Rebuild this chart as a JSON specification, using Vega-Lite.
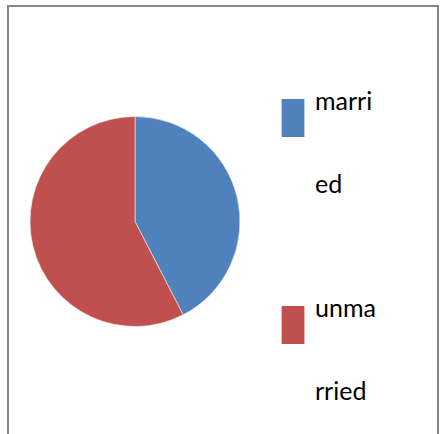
{
  "$schema": "https://vega.github.io/schema/vega-lite/v6.json",
  "autosize": "none",
  "padding": {"left": 8, "top": 6, "right": 7, "bottom": 0},
  "width": 430,
  "height": 440,
  "background": "white",
  "view": {"stroke": "#868686", "strokeWidth": 2},
  "config": {
    "font": "Lato",
    "style": {"guide-label": {"lineHeight": 83, "dy": -8}}
  },
  "data": {
    "values": [
      {"status": "married", "count": 14},
      {"status": "unmarried", "count": 19}
    ]
  },
  "mark": {"type": "arc", "x": 127, "y": 215.5, "outerRadius": 105, "stroke": "#f2f2f2", "strokeWidth": 0.6},
  "encoding": {
    "theta": {"field": "count", "type": "quantitative", "stack": true},
    "order": {"field": "status", "type": "nominal", "sort": "ascending"},
    "color": {
      "field": "status",
      "type": "nominal",
      "scale": {"domain": ["married", "unmarried"], "range": ["#4F81BD", "#C0504D"]},
      "legend": {
        "title": null,
        "orient": "none",
        "legendX": 266,
        "legendY": 93,
        "direction": "vertical",
        "symbolType": "M-0.6,-1H0.6V1H-0.6Z",
        "symbolSize": 1444,
        "symbolStrokeWidth": 0,
        "labelFont": "Lato",
        "labelFontSize": 25,
        "labelColor": "#000000",
        "labelOffset": 3,
        "labelLimit": 0,
        "rowPadding": 99,
        "labelExpr": "datum.label == 'married' ? ['marri', 'ed'] : ['unma', 'rried']",
        "labelBaseline": "alphabetic"
      }
    }
  }
}
